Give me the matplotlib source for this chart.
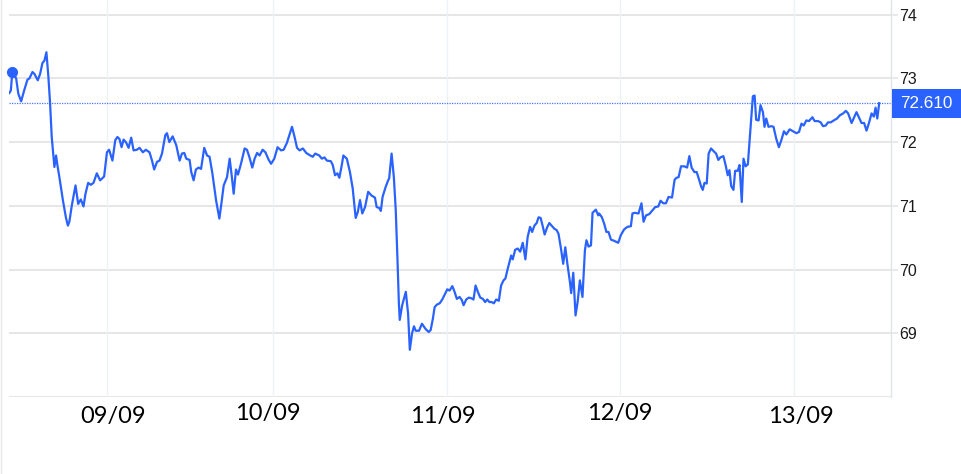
import numpy as np
import matplotlib
matplotlib.use("Agg")
import matplotlib.pyplot as plt
import matplotlib.transforms as mtransforms
from matplotlib.patches import Rectangle

# price series (x = day of month, fractional)
days = [8.414, 8.423, 8.432, 8.438, 8.455, 8.468, 8.485, 8.503, 8.523, 8.535,
        8.553, 8.565, 8.585, 8.599, 8.613, 8.625, 8.637, 8.649, 8.659, 8.669,
        8.685, 8.695, 8.703, 8.715, 8.736, 8.754, 8.766, 8.775, 8.790, 8.812,
        8.828, 8.844, 8.860, 8.872, 8.888, 8.904, 8.920, 8.940, 8.960, 8.984,
        9.001, 9.014, 9.034, 9.051, 9.064, 9.076, 9.089, 9.101, 9.117, 9.131,
        9.147, 9.161, 9.181, 9.197, 9.217, 9.235, 9.257, 9.272, 9.285, 9.302,
        9.317, 9.332, 9.352, 9.362, 9.376, 9.396, 9.418, 9.438, 9.452, 9.466,
        9.478, 9.498, 9.508, 9.522, 9.536, 9.552, 9.567, 9.586, 9.603, 9.618,
        9.635, 9.657, 9.677, 9.689, 9.703, 9.723, 9.739, 9.751, 9.763, 9.777,
        9.789, 9.807, 9.829, 9.843, 9.857, 9.875, 9.889, 9.904, 9.919, 9.937,
        9.954, 9.974, 9.988, 10.007, 10.026, 10.046, 10.061, 10.080, 10.095, 10.109,
        10.124, 10.138, 10.153, 10.172, 10.191, 10.214, 10.229, 10.243, 10.266, 10.281,
        10.296, 10.310, 10.333, 10.344, 10.357, 10.371, 10.382, 10.396, 10.405, 10.425,
        10.443, 10.459, 10.476, 10.488, 10.501, 10.514, 10.530, 10.548, 10.568, 10.587,
        10.597, 10.610, 10.621, 10.631, 10.648, 10.663, 10.669, 10.683, 10.696, 10.707,
        10.717, 10.725, 10.730, 10.744, 10.765, 10.778, 10.788, 10.801, 10.812, 10.822,
        10.841, 10.858, 10.878, 10.897, 10.908, 10.921, 10.931, 10.944, 10.960, 10.975,
        10.993, 11.004, 11.017, 11.033, 11.046, 11.059, 11.075, 11.088, 11.098, 11.113,
        11.128, 11.142, 11.155, 11.167, 11.180, 11.194, 11.209, 11.222, 11.234, 11.247,
        11.260, 11.272, 11.286, 11.301, 11.314, 11.328, 11.339, 11.352, 11.372, 11.381,
        11.395, 11.410, 11.424, 11.439, 11.454, 11.467, 11.481, 11.493, 11.506, 11.519,
        11.530, 11.542, 11.553, 11.565, 11.579, 11.592, 11.605, 11.621, 11.634, 11.645,
        11.659, 11.672, 11.684, 11.697, 11.711, 11.718, 11.730, 11.743, 11.755, 11.768,
        11.783, 11.797, 11.806, 11.818, 11.832, 11.841, 11.860, 11.874, 11.879, 11.895,
        11.908, 11.921, 11.933, 11.947, 11.966, 11.989, 12.004, 12.023, 12.042, 12.062,
        12.071, 12.085, 12.106, 12.123, 12.135, 12.149, 12.168, 12.187, 12.202, 12.220,
        12.233, 12.249, 12.264, 12.279, 12.299, 12.314, 12.325, 12.337, 12.351, 12.370,
        12.386, 12.399, 12.412, 12.428, 12.441, 12.453, 12.466, 12.476, 12.486, 12.499,
        12.510, 12.524, 12.538, 12.553, 12.566, 12.578, 12.595, 12.607, 12.620, 12.630,
        12.640, 12.653, 12.663, 12.678, 12.688, 12.701, 12.711, 12.723, 12.736, 12.765,
        12.775, 12.784, 12.798, 12.809, 12.823, 12.832, 12.842, 12.855, 12.871, 12.884,
        12.900, 12.915, 12.929, 12.944, 12.958, 12.977, 12.996, 13.016, 13.031, 13.045,
        13.058, 13.073, 13.088, 13.108, 13.121, 13.140, 13.156, 13.169, 13.185, 13.198,
        13.214, 13.231, 13.250, 13.266, 13.285, 13.301, 13.314, 13.334, 13.347, 13.362,
        13.376, 13.391, 13.406, 13.420, 13.435, 13.449, 13.462, 13.472, 13.482, 13.493]

prices = [72.77, 72.81, 73.10, 73.07, 73.00, 72.76, 72.64, 72.81, 72.98, 73.00,
          73.10, 73.07, 72.97, 73.07, 73.24, 73.28, 73.41, 73.02, 72.61, 72.08,
          71.61, 71.79, 71.64, 71.45, 71.09, 70.82, 70.69, 70.75, 71.01, 71.32,
          71.03, 71.10, 70.99, 71.19, 71.36, 71.33, 71.36, 71.51, 71.40, 71.46,
          71.84, 71.88, 71.71, 72.03, 72.08, 72.05, 71.92, 72.04, 71.99, 71.91,
          72.07, 71.87, 71.88, 71.91, 71.84, 71.88, 71.84, 71.71, 71.57, 71.69,
          71.71, 71.82, 72.11, 72.14, 72.00, 72.09, 71.95, 71.71, 71.82, 71.83,
          71.74, 71.72, 71.53, 71.40, 71.57, 71.60, 71.58, 71.91, 71.79, 71.77,
          71.51, 71.09, 70.80, 71.03, 71.32, 71.45, 71.74, 71.48, 71.19, 71.57,
          71.49, 71.66, 71.90, 71.88, 71.77, 71.60, 71.74, 71.83, 71.79, 71.88,
          71.84, 71.72, 71.66, 71.74, 71.92, 71.87, 71.88, 71.99, 72.12, 72.24,
          72.08, 71.91, 71.87, 71.90, 71.83, 71.79, 71.77, 71.82, 71.79, 71.74,
          71.76, 71.71, 71.70, 71.64, 71.48, 71.51, 71.44, 71.64, 71.79, 71.74,
          71.53, 71.27, 70.81, 70.90, 71.09, 70.88, 70.98, 71.22, 71.16, 71.13,
          70.98, 70.97, 70.92, 71.14, 71.29, 71.40, 71.43, 71.82, 71.45, 70.93,
          70.15, 69.47, 69.21, 69.44, 69.65, 69.31, 68.74, 69.00, 69.11, 69.04,
          69.04, 69.15, 69.07, 69.02, 69.05, 69.23, 69.41, 69.45, 69.47, 69.53,
          69.63, 69.69, 69.67, 69.74, 69.65, 69.54, 69.57, 69.52, 69.44, 69.53,
          69.56, 69.55, 69.53, 69.75, 69.65, 69.56, 69.54, 69.49, 69.53, 69.49,
          69.49, 69.47, 69.53, 69.51, 69.75, 69.83, 69.86, 70.01, 70.22, 70.16,
          70.31, 70.33, 70.28, 70.42, 70.16, 70.51, 70.67, 70.59, 70.69, 70.73,
          70.82, 70.81, 70.69, 70.55, 70.66, 70.73, 70.69, 70.64, 70.62, 70.56,
          70.33, 70.09, 70.35, 70.07, 69.80, 69.63, 69.95, 69.28, 69.49, 69.83,
          69.57, 70.30, 70.46, 70.36, 70.38, 70.89, 70.94, 70.85, 70.88, 70.82,
          70.72, 70.59, 70.59, 70.47, 70.45, 70.42, 70.54, 70.63, 70.67, 70.68,
          70.88, 70.89, 70.88, 71.04, 70.75, 70.85, 70.87, 70.93, 70.98, 70.99,
          71.08, 71.04, 71.04, 71.14, 71.13, 71.41, 71.44, 71.45, 71.62, 71.62,
          71.60, 71.78, 71.60, 71.53, 71.53, 71.43, 71.31, 71.25, 71.36, 71.35,
          71.82, 71.90, 71.86, 71.82, 71.72, 71.76, 71.78, 71.65, 71.48, 71.56,
          71.31, 71.25, 71.55, 71.55, 71.64, 71.06, 71.74, 71.62, 71.65, 72.72,
          72.73, 72.35, 72.34, 72.58, 72.47, 72.24, 72.37, 72.24, 72.25, 72.24,
          72.05, 71.92, 72.03, 72.17, 72.12, 72.20, 72.17, 72.14, 72.16, 72.29,
          72.26, 72.34, 72.33, 72.39, 72.33, 72.33, 72.31, 72.25, 72.26, 72.31,
          72.31, 72.34, 72.37, 72.42, 72.45, 72.49, 72.45, 72.30, 72.38, 72.47,
          72.39, 72.30, 72.30, 72.18, 72.31, 72.45, 72.40, 72.54, 72.37, 72.61]

tick_days = [9, 10, 11, 12, 13]
tick_labels = ["09/09", "10/09", "11/09", "12/09", "13/09"]
label_days = [9.04, 9.966, 10.977, 12.0, 13.04]
y_ticks = [69, 70, 71, 72, 73, 74]
last_price = 72.610

# trading hours per day from 08/09 to 13/09 (the early sessions are shorter)
session_days = [8, 9, 10, 11, 12, 13, 14]
session_hours = [0, 23, 46, 70, 94, 118, 142]

def to_hours(d):
    return np.interp(d, session_days, session_hours)

def to_days(h):
    return np.interp(h, session_hours, session_days)

blue = "#2962ff"

fig = plt.figure(figsize=(9.61, 4.74), dpi=100)
ax = fig.add_axes([9 / 961, 1 - 397 / 474, 882 / 961, 397 / 474])
ax.set_xscale("function", functions=(to_hours, to_days))

# grid
for y in [68] + y_ticks:
    ax.axhline(y, color="#e6e6e6", lw=1.4, zorder=0)
for d in tick_days:
    ax.axvline(d, color="#eef1f5", lw=1.0, zorder=0)

# price line + marker at the start
ax.plot(days, prices, color=blue, lw=1.6, zorder=3)
ax.plot(days[2], prices[2], "o", color=blue, ms=7, zorder=4, clip_on=False)

# dotted last-price line
ax.axhline(last_price, color=blue, lw=0.9, ls=(0, (1, 1)), alpha=0.85, zorder=2)

ax.set_xlim(8.412, 13.561)
ax.set_ylim(68.0, 74.23)

for s in ["top", "left", "bottom"]:
    ax.spines[s].set_visible(False)
ax.spines["right"].set_color("#e0e3e8")
ax.spines["right"].set_linewidth(1.0)

ax.yaxis.tick_right()
ax.set_yticks(y_ticks)
ax.set_yticklabels([str(v) for v in y_ticks])
ax.tick_params(axis="y", length=5, width=1.2, color="#e6e6e6", pad=0.8,
               labelsize=11.5, labelcolor="#1a1a1a")
for t in ax.get_yticklabels():
    t.set_fontfamily("Liberation Sans")
ax.set_xticks([])
ax.xaxis.set_minor_locator(plt.NullLocator())

# date labels under the chart
trans = mtransforms.blended_transform_factory(ax.transData, ax.transAxes)
label_y = [-0.050, -0.042, -0.050, -0.042, -0.050]
for d, lab, ly in zip(label_days, tick_labels, label_y):
    ax.text(d, ly, lab, transform=trans, ha="center", va="center",
            fontsize=17, family="Lato", color="#000000")

# last-price tag on the axis
tag_trans = mtransforms.blended_transform_factory(ax.transAxes, ax.transData)
ax.add_patch(Rectangle((1.001, last_price - 0.23), 0.08, 0.46, transform=tag_trans,
                       facecolor=blue, edgecolor="none", clip_on=False, zorder=5))
ax.text(1.0105, last_price, f"{last_price:.3f}", transform=tag_trans,
        ha="left", va="center", fontsize=12.3, family="Liberation Sans",
        color="white", zorder=6, clip_on=False)

# faint frame line on the far left
fig.add_artist(plt.Line2D([0.001, 0.001], [0, 1], color="#e8e8e8", lw=1.0))

fig.savefig("out.png", dpi=100)
